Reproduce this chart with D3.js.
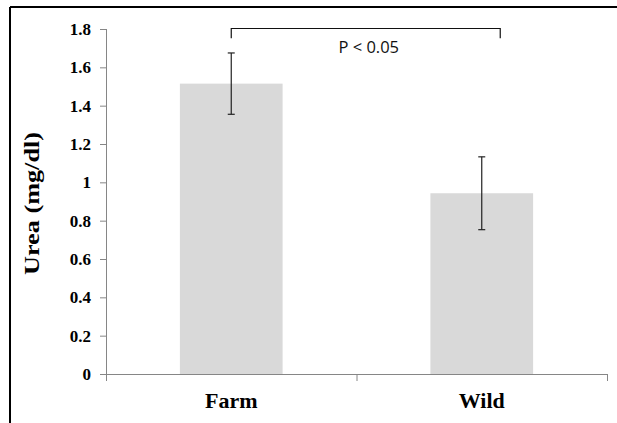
<!DOCTYPE html>
<html>
<head>
<meta charset="utf-8">
<script src="https://cdn.jsdelivr.net/npm/d3@7/dist/d3.min.js"></script>
<style>
  html, body { margin: 0; padding: 0; background: #fff; }
  svg { display: block; }
</style>
</head>
<body>
<svg id="chart" width="617" height="423"></svg>
<script>
// ---- data ----
const categories = ["Farm", "Wild"];
const means = [1.515, 0.943];
const errors = [0.16, 0.19];
const yTicks = [0, 0.2, 0.4, 0.6, 0.8, 1, 1.2, 1.4, 1.6, 1.8];
const yTitle = "Urea (mg/dl)";
const sigLabel = "P < 0.05";

// ---- layout ----
const svg = d3.select("#chart");
const W = 617, H = 423;
const plot = { left: 106, right: 607, top: 29, bottom: 374 };

// frame (top + left border of the original figure box)
svg.append("line").attr("x1", 10).attr("x2", W).attr("y1", 7).attr("y2", 7)
  .attr("stroke", "#000").attr("stroke-width", 2);
svg.append("line").attr("x1", 10).attr("x2", 10).attr("y1", 7).attr("y2", H)
  .attr("stroke", "#000").attr("stroke-width", 2);

const y = d3.scaleLinear().domain([0, 1.8]).range([plot.bottom, plot.top]);
const x = d3.scaleBand().domain(categories).range([plot.left, plot.right])
  .paddingInner(0.59).paddingOuter(0.295);
const xEdges = d3.scaleLinear().domain([0, categories.length]).range([plot.left, plot.right]);

// bars
svg.append("g").selectAll("rect").data(categories).join("rect")
  .attr("x", d => x(d))
  .attr("width", x.bandwidth())
  .attr("y", (d, i) => y(means[i]))
  .attr("height", (d, i) => y(0) - y(means[i]))
  .attr("fill", "#d9d9d9");

// y axis
const yAxis = svg.append("g").attr("transform", `translate(${plot.left},0)`)
  .call(d3.axisLeft(y).tickValues(yTicks).tickSize(6).tickPadding(9)
    .tickFormat(d => String(+d.toFixed(1))));
yAxis.selectAll("path, line").attr("stroke", "#868686");
yAxis.select("path").attr("d", `M0.5,${plot.top}V${plot.bottom}`);
yAxis.selectAll("text")
  .attr("font-family", "'Liberation Serif', 'Times New Roman', serif")
  .attr("font-weight", "bold").attr("font-size", 17).attr("fill", "#000");

// x axis (line + boundary ticks)
const xAxis = svg.append("g").attr("transform", `translate(0,${plot.bottom})`)
  .call(d3.axisBottom(xEdges).tickValues(d3.range(categories.length + 1))
    .tickSize(7).tickSizeOuter(0).tickFormat(""));
xAxis.selectAll("path, line").attr("stroke", "#868686");

// category labels
svg.append("g").selectAll("text").data(categories).join("text")
  .attr("x", d => x(d) + x.bandwidth() / 2)
  .attr("y", 408)
  .attr("text-anchor", "middle")
  .attr("font-family", "'Liberation Serif', 'Times New Roman', serif")
  .attr("font-weight", "bold").attr("font-size", 22).attr("fill", "#000")
  .text(d => d);

// y title
svg.append("text")
  .attr("transform", `translate(39,${(132 + 275) / 2}) rotate(-90)`)
  .attr("text-anchor", "middle")
  .attr("font-family", "'Liberation Serif', 'Times New Roman', serif")
  .attr("font-weight", "bold").attr("font-size", 22).attr("fill", "#000")
  .attr("textLength", 143).attr("lengthAdjust", "spacingAndGlyphs")
  .text(yTitle);

// error bars
const eb = svg.append("g").attr("stroke", "#222").attr("stroke-width", 1.2);
categories.forEach((c, i) => {
  const cx = x(c) + x.bandwidth() / 2;
  const yt = y(means[i] + errors[i]), yb = y(means[i] - errors[i]);
  eb.append("line").attr("x1", cx).attr("x2", cx).attr("y1", yt).attr("y2", yb);
  eb.append("line").attr("x1", cx - 3.5).attr("x2", cx + 3.5).attr("y1", yt).attr("y2", yt);
  eb.append("line").attr("x1", cx - 3.5).attr("x2", cx + 3.5).attr("y1", yb).attr("y2", yb);
});

// significance bracket
const bx1 = x("Farm") + x.bandwidth() / 2;
const bx2 = x("Wild") + x.bandwidth() * 0.68;
const byTop = y(1.8) - 0.5, byLeg = y(1.752);
svg.append("path")
  .attr("d", `M${bx1},${byLeg}V${byTop}H${bx2}V${byLeg}`)
  .attr("fill", "none").attr("stroke", "#111").attr("stroke-width", 1.2);
svg.append("text")
  .attr("x", (bx1 + bx2) / 2 + 3).attr("y", 53)
  .attr("text-anchor", "middle")
  .attr("font-family", "'Open Sans', 'DejaVu Sans', sans-serif")
  .attr("font-size", 16.5).attr("fill", "#111")
  .text(sigLabel);
</script>
</body>
</html>
